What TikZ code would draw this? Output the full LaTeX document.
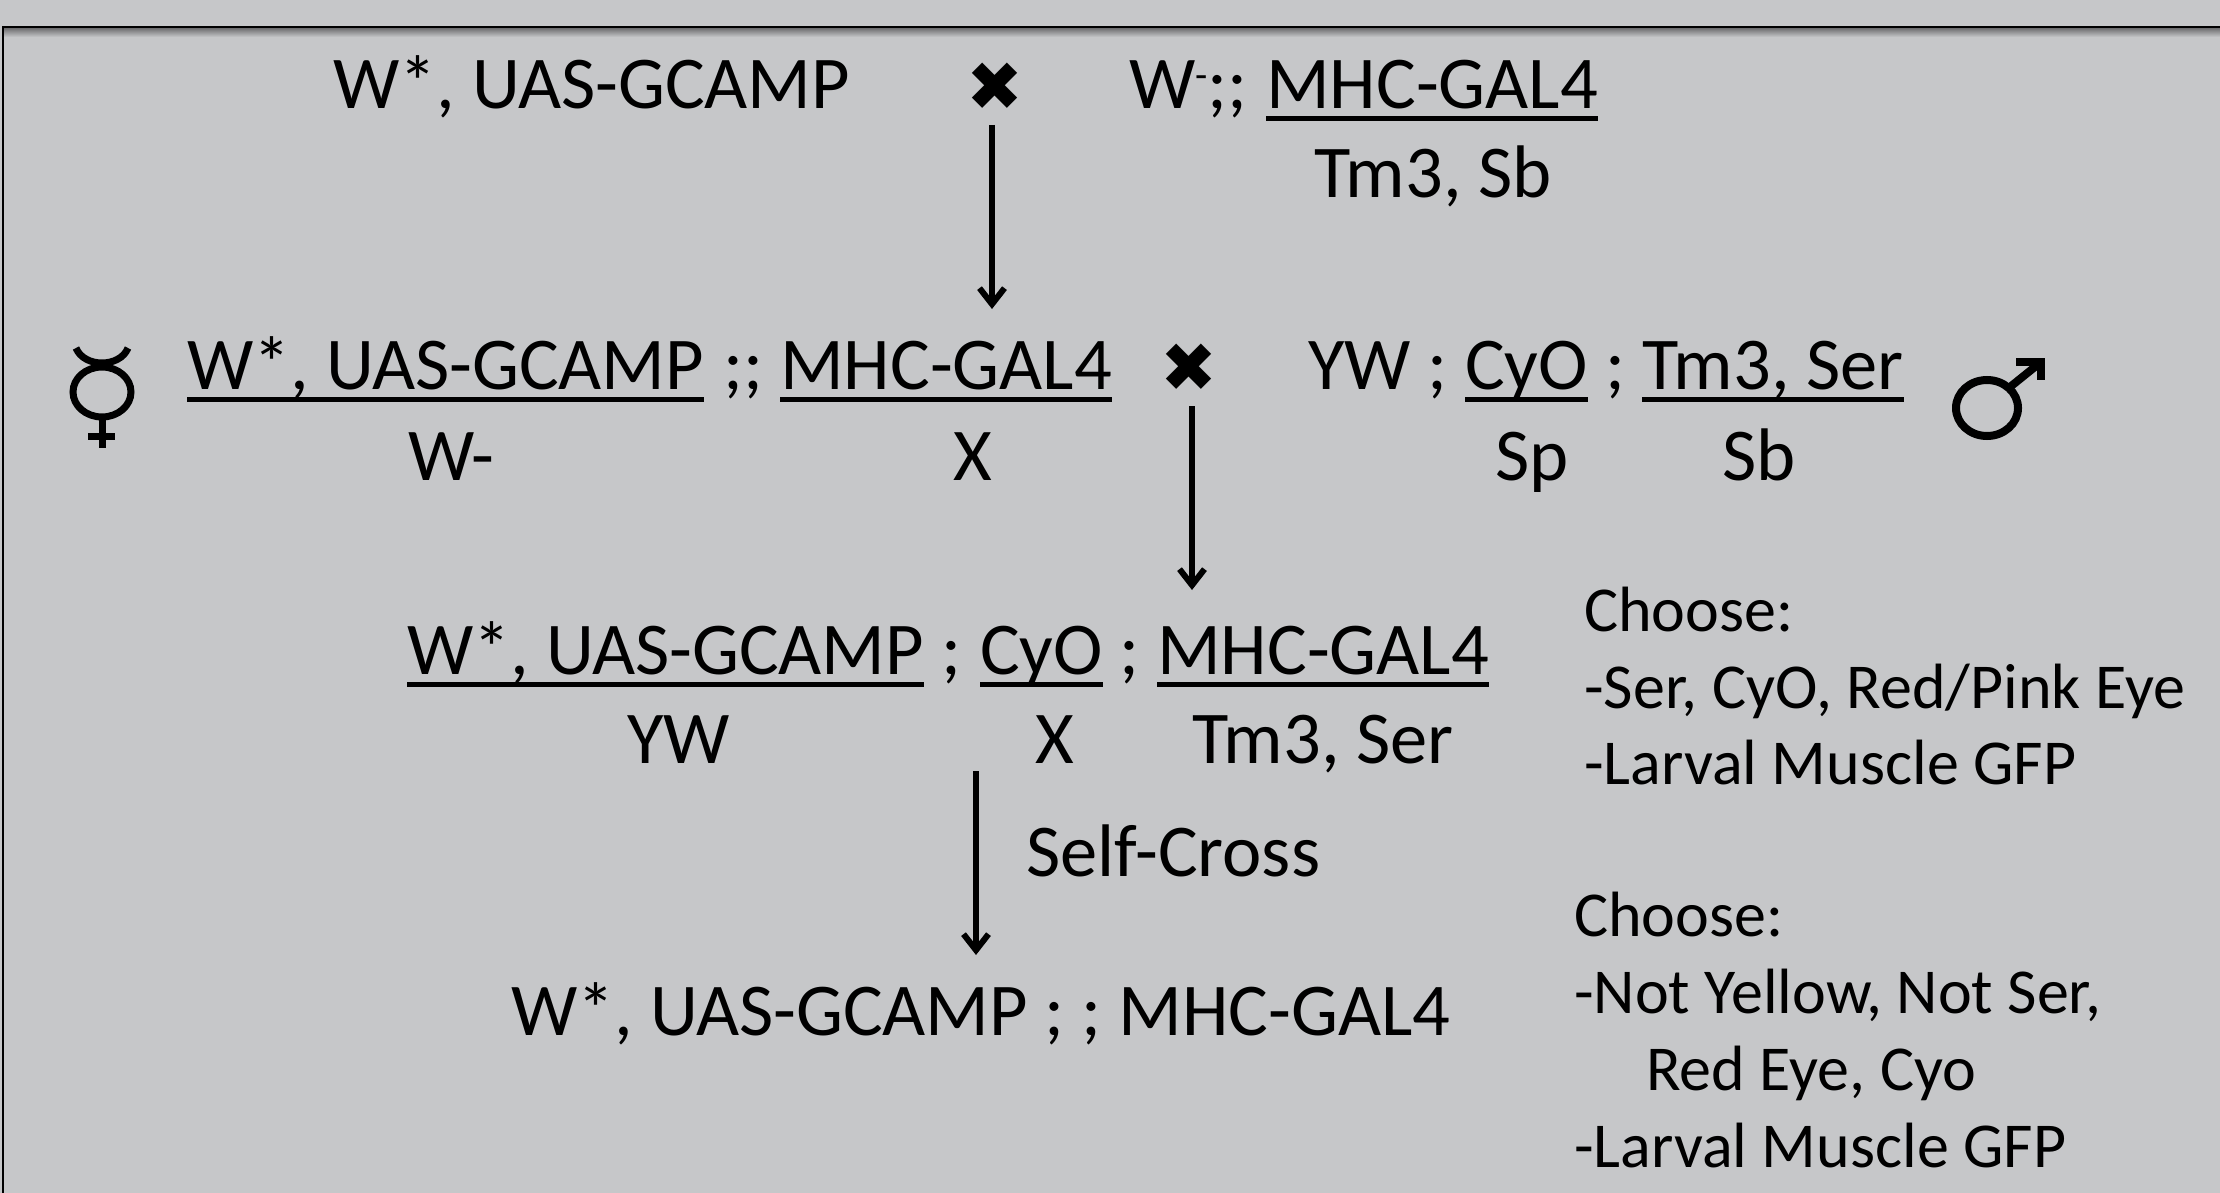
\documentclass[tikz,border=0pt]{standalone}
\usepackage{fontspec}
\setmainfont{Carlito}
\usetikzlibrary{arrows.meta}
\newfontfamily\symf{DejaVu Sans}
\definecolor{bg}{HTML}{C6C7C9}
\definecolor{ink}{HTML}{000000}
\tikzset{
 x=1pt,y=-1pt,
 lbl/.style={text=ink,inner sep=0pt,anchor=base west,font=\fontsize{74.5}{74.5}\selectfont},
 sm/.style={text=ink,inner sep=0pt,anchor=base west,font=\fontsize{64}{64}\selectfont},
 cross/.style={text=ink,inner sep=0pt,font=\fontsize{68}{68}\selectfont},
 arr/.style={draw=ink,line width=5.5pt,-{Straight Barb[length=16pt,width=25pt,line width=6pt]}},
 ul/.style={draw=ink,line width=5pt},
 sym/.style={draw=ink,line width=7pt},
}
\newcommand{\ulin}[1]{\draw[ul] ([yshift=-10pt]#1.base west) -- ([yshift=-10pt]#1.base east);}
\begin{document}
\begin{tikzpicture}
\useasboundingbox (0,0) rectangle (2220,1193);
\fill[bg] (0,0) rectangle (2220,1193);
\shade[top color=black!45!bg,bottom color=bg] (3,28) rectangle (2220,37);
\draw[draw=ink,line width=2.5pt] (3,1193) -- (3,27) -- (2220,27);
% row 1
\node[lbl] (a1) at (333,108.5) {W*, UAS-GCAMP};
\node[cross] (x1) at (995,87) {\symf ✖};
\node[lbl] (a2) at (1129,108.5) {W\raisebox{20pt}{\fontsize{40}{40}\selectfont -};;};
\node[lbl] (a2b) at (1266,108.5) {MHC-GAL4};
\node[lbl] (a3) at (1314,198) {Tm3, Sb};
\ulin{a2b}
% row 2
\node[lbl] (b1) at (187,389.5) {W*, UAS-GCAMP};
\node[lbl] (b1s) at (723,389.5) {;;};
\node[lbl] (b1b) at (780,389.5) {MHC-GAL4};
\node[lbl] (b2) at (408,480) {W-};
\node[lbl] (b3) at (953,480) {X};
\node[cross] (x2) at (1189,368) {\symf ✖};
\node[lbl] (b4) at (1308,389.5) {YW ;};
\node[lbl] (b4a) at (1465,389.5) {CyO};
\node[lbl] (b4s) at (1605,389.5) {;};
\node[lbl] (b4b) at (1642,389.5) {Tm3, Ser};
\node[lbl] (b5) at (1495,480) {Sp};
\node[lbl] (b6) at (1722,480) {Sb};
\ulin{b1}\ulin{b1b}\ulin{b4a}\ulin{b4b}
% row 3
\node[lbl] (c1) at (407,674.5) {W*, UAS-GCAMP};
\node[lbl] (c1s) at (941,674.5) {;};
\node[lbl] (c1a) at (980,674.5) {CyO};
\node[lbl] (c1t) at (1119,674.5) {;};
\node[lbl] (c1b) at (1157,674.5) {MHC-GAL4};
\node[lbl] (c2) at (627,763.5) {YW};
\node[lbl] (c3) at (1035,763.5) {X};
\node[lbl] (c4) at (1192,763.5) {Tm3, Ser};
\ulin{c1}\ulin{c1a}\ulin{c1b}
\node[lbl] (sc) at (1026,876) {Self-Cross};
\node[lbl] (d1) at (511,1035.5) {W*, UAS-GCAMP ; ; MHC-GAL4};
% notes
\node[sm] (n1) at (1584,631) {Choose:};
\node[sm] (n2) at (1584,708) {-Ser, CyO, Red/Pink Eye};
\node[sm] (n3) at (1584,784) {-Larval Muscle GFP};
\node[sm] (n4) at (1574,936) {Choose:};
\node[sm] (n5) at (1574,1013) {-Not Yellow, Not Ser,};
\node[sm] (n6) at (1646,1090) {Red Eye, Cyo};
\node[sm] (n7) at (1574,1167) {-Larval Muscle GFP};
% arrows
\coordinate (ar1s) at (992,125); \coordinate (ar1e) at (992,309);
\coordinate (ar2s) at (1192,406); \coordinate (ar2e) at (1192,590);
\coordinate (ar3s) at (976,771); \coordinate (ar3e) at (976,955);
\draw[arr] (ar1s) -- (ar1e);
\draw[arr] (ar2s) -- (ar2e);
\draw[arr] (ar3s) -- (ar3e);
% mercury
\draw[sym] (102,392) ellipse [x radius=29,y radius=25];
\draw[sym] (76,348) .. controls (84,368) and (120,368) .. (128,348);
\draw[sym] (102,418) -- (102,448);
\draw[sym] (88,436) -- (115,436);
% mars
\draw[sym,line width=8pt] (1987,408) ellipse [x radius=31,y radius=28];
\draw[sym,line width=8pt] (2010,387) -- (2041,362);
\draw[sym,line width=8pt,miter limit=10] (2016,362) -- (2041,362) -- (2041,380);
\end{tikzpicture}
\end{document}
